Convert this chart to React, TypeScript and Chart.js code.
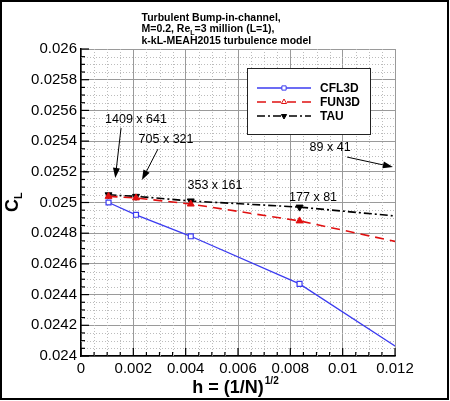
import { useEffect, useRef } from "react";
import Chart from "chart.js/auto";
import { drawPoint } from "chart.js/helpers";

// grid levels and their h = (1/N)^1/2
const gridNames = ["1409 x 641", "705 x 321", "353 x 161", "177 x 81", "89 x 41"];
const hValues = [0.001052, 0.002102, 0.004195, 0.008352, 0.016555];

// lift coefficient per code
const cfl3d = [0.025, 0.02492, 0.02478, 0.02447, 0.02356];
const fun3d = [0.02504, 0.02503, 0.02499, 0.02488, 0.02458];
const tau = [0.02505, 0.02504, 0.02501, 0.02497, 0.02484];

const xTickLabels = ["0", "0.002", "0.004", "0.006", "0.008", "0.01", "0.012"];
const yTickLabels = ["0.024", "0.0242", "0.0244", "0.0246", "0.0248", "0.025", "0.0252", "0.0254", "0.0256", "0.0258", "0.026"];

const titleLines = ["Turbulent Bump-in-channel,", "M=0.2, Re", "k-kL-MEAH2015 turbulence model"];

// grid-size labels, in data coordinates (h, CL); optional arrow from -> to
const notes = [
    { text: gridNames[0], at: [0.0021, 0.02554], from: [0.00153, 0.025485], to: [0.00131, 0.02516] },
    { text: gridNames[1], at: [0.00325, 0.025408], from: [0.00294, 0.025348], to: [0.00233, 0.025146] },
    { text: gridNames[2], at: [0.00512, 0.025113] },
    { text: gridNames[3], at: [0.00887, 0.025035] },
    { text: gridNames[4], at: [0.00952, 0.025361], from: [0.01017, 0.025296], to: [0.01192, 0.025231] },
];

const FONT = "'Liberation Sans', Arial, Helvetica, sans-serif";

const decor = {
    id: "decor",
    beforeDatasetsDraw(chart: any) {
        const { ctx, chartArea: a, scales } = chart;
        const x = scales.x;
        const y = scales.y;
        ctx.save();
        ctx.strokeStyle = "#bcbcbc";
        ctx.lineWidth = 1;
        ctx.setLineDash([1, 2]);
        for (let i = 1; i < 24; i++) {
            if (i % 4 === 0) continue;
            const px = Math.round(x.getPixelForValue(i * 0.0005)) + 0.5;
            ctx.beginPath();
            ctx.moveTo(px, a.top);
            ctx.lineTo(px, a.bottom);
            ctx.stroke();
        }
        for (let i = 1; i < 40; i++) {
            if (i % 4 === 0) continue;
            const py = Math.round(y.getPixelForValue(0.024 + i * 0.00005)) + 0.5;
            ctx.beginPath();
            ctx.moveTo(a.left, py);
            ctx.lineTo(a.right, py);
            ctx.stroke();
        }
        ctx.restore();
    },
    afterDraw(chart: any) {
        const { ctx, chartArea: a, scales } = chart;
        const x = scales.x;
        const y = scales.y;
        ctx.save();

        // inward ticks
        ctx.strokeStyle = "#000";
        ctx.lineWidth = 1.2;
        for (let i = 0; i <= 40; i++) {
            const py = y.getPixelForValue(0.024 + i * 0.00005);
            const len = i % 4 === 0 ? 8 : 4;
            ctx.beginPath();
            ctx.moveTo(a.left, py);
            ctx.lineTo(a.left + len, py);
            ctx.stroke();
        }
        for (let i = 0; i <= 24; i++) {
            const px = x.getPixelForValue(i * 0.0005);
            const len = i % 4 === 0 ? 8 : 4;
            ctx.beginPath();
            ctx.moveTo(px, a.bottom);
            ctx.lineTo(px, a.bottom - len);
            ctx.stroke();
        }

        // annotations
        ctx.fillStyle = "#000";
        ctx.font = `12.5px ${FONT}`;
        ctx.textAlign = "center";
        ctx.textBaseline = "middle";
        for (const n of notes) {
            ctx.fillText(n.text, x.getPixelForValue(n.at[0]), y.getPixelForValue(n.at[1]));
            if (n.from && n.to) {
                const x0 = x.getPixelForValue(n.from[0]);
                const y0 = y.getPixelForValue(n.from[1]);
                const x1 = x.getPixelForValue(n.to[0]);
                const y1 = y.getPixelForValue(n.to[1]);
                const ang = Math.atan2(y1 - y0, x1 - x0);
                ctx.lineWidth = 1;
                ctx.beginPath();
                ctx.moveTo(x0, y0);
                ctx.lineTo(x1 - 8 * Math.cos(ang), y1 - 8 * Math.sin(ang));
                ctx.stroke();
                ctx.beginPath();
                ctx.moveTo(x1, y1);
                ctx.lineTo(x1 - 10 * Math.cos(ang) + 3.5 * Math.sin(ang), y1 - 10 * Math.sin(ang) - 3.5 * Math.cos(ang));
                ctx.lineTo(x1 - 10 * Math.cos(ang) - 3.5 * Math.sin(ang), y1 - 10 * Math.sin(ang) + 3.5 * Math.cos(ang));
                ctx.closePath();
                ctx.fill();
            }
        }

        // legend box
        const lx = a.left + 166;
        const ly = a.top + 19;
        ctx.fillStyle = "#fff";
        ctx.fillRect(lx, ly, 123, 66);
        ctx.strokeStyle = "#222";
        ctx.lineWidth = 1;
        ctx.strokeRect(lx + 0.5, ly + 0.5, 123, 66);
        chart.data.datasets.forEach((ds: any, i: number) => {
            const ry = ly + 20 + i * 14;
            ctx.strokeStyle = ds.borderColor;
            ctx.lineWidth = ds.borderWidth;
            ctx.setLineDash(ds.borderDash || []);
            ctx.beginPath();
            ctx.moveTo(lx + 10, ry);
            ctx.lineTo(lx + 64, ry);
            ctx.stroke();
            ctx.setLineDash([]);
            ctx.fillStyle = i === 1 ? "#fff" : ds.pointBackgroundColor;
            ctx.lineWidth = 1;
            drawPoint(ctx, { pointStyle: ds.pointStyle, rotation: ds.pointRotation || 0, radius: 3, borderWidth: 1 }, lx + 37, ry);
            ctx.fillStyle = "#000";
            ctx.font = `bold 12px ${FONT}`;
            ctx.textAlign = "left";
            ctx.fillText(ds.label, lx + 73, ry + 1);
        });

        // title
        ctx.fillStyle = "#000";
        ctx.textAlign = "left";
        ctx.textBaseline = "alphabetic";
        ctx.font = `bold 10.5px ${FONT}`;
        const tx = 141.5;
        ctx.fillText(titleLines[0], tx, 20.5);
        ctx.fillText(titleLines[1], tx, 32);
        let w = ctx.measureText(titleLines[1]).width;
        ctx.font = `bold 7px ${FONT}`;
        ctx.fillText("L", tx + w, 34.5);
        w += ctx.measureText("L").width;
        ctx.font = `bold 10.5px ${FONT}`;
        ctx.fillText("=3 million (L=1),", tx + w, 32);
        ctx.fillText(titleLines[2], tx, 43.5);

        // x title
        const main = "h = (1/N)";
        ctx.font = `bold 18px ${FONT}`;
        const mw = ctx.measureText(main).width;
        ctx.font = `bold 10px ${FONT}`;
        const sw = ctx.measureText("1/2").width;
        const sx = (a.left + a.right) / 2 - (mw + sw) / 2 - 3;
        ctx.font = `bold 18px ${FONT}`;
        ctx.fillText(main, sx, 393);
        ctx.font = `bold 10px ${FONT}`;
        ctx.fillText("1/2", sx + mw + 1, 384);

        // y title (rotated)
        ctx.translate(18, 212);
        ctx.rotate(-Math.PI / 2);
        ctx.font = `bold 18px ${FONT}`;
        ctx.fillText("C", 0, 0);
        const cw = ctx.measureText("C").width;
        ctx.font = `bold 11px ${FONT}`;
        ctx.fillText("L", cw, 4);
        ctx.setTransform(1, 0, 0, 1, 0, 0);

        // outer frame
        const dpr = chart.currentDevicePixelRatio || 1;
        ctx.scale(dpr, dpr);
        ctx.strokeStyle = "#000";
        ctx.lineWidth = 2;
        ctx.strokeRect(1, 1, 447, 398);
        ctx.restore();
    },
};

export default function App() {
    const canvasRef = useRef<HTMLCanvasElement | null>(null);

    useEffect(() => {
        if (!canvasRef.current) {
            return;
        }

        const toPoints = (vals: number[]) => vals.map((v, i) => ({ x: hValues[i], y: v }));

        const chart = new Chart(canvasRef.current, {
            type: "line",
            data: {
                datasets: [
                    {
                        label: "CFL3D",
                        data: toPoints(cfl3d),
                        borderColor: "#3b3bf0",
                        borderWidth: 1.3,
                        pointStyle: "rect",
                        pointRadius: 3.5,
                        pointBorderWidth: 1.2,
                        pointBorderColor: "#3b3bf0",
                        pointBackgroundColor: "#ffffff",
                    },
                    {
                        label: "FUN3D",
                        data: toPoints(fun3d),
                        borderColor: "#e01010",
                        borderWidth: 1.6,
                        borderDash: [9, 6],
                        pointStyle: "triangle",
                        pointRadius: 4,
                        pointBorderWidth: 1,
                        pointBorderColor: "#e01010",
                        pointBackgroundColor: "#e01010",
                    },
                    {
                        label: "TAU",
                        data: toPoints(tau),
                        borderColor: "#000000",
                        borderWidth: 1.6,
                        borderDash: [8, 3, 2, 3],
                        pointStyle: "triangle",
                        pointRotation: 180,
                        pointRadius: 4,
                        pointBorderWidth: 1,
                        pointBorderColor: "#000000",
                        pointBackgroundColor: "#000000",
                    },
                ],
            },
            options: {
                animation: false,
                responsive: true,
                maintainAspectRatio: false,
                layout: { padding: { top: 49, right: 55, left: 0, bottom: 0 } },
                plugins: {
                    legend: { display: false },
                    tooltip: { enabled: false },
                },
                scales: {
                    x: {
                        type: "linear",
                        min: 0,
                        max: 0.012,
                        afterFit: (s: any) => {
                            s.height = 45;
                        },
                        ticks: {
                            stepSize: 0.002,
                            color: "#000",
                            padding: 4,
                            maxRotation: 0,
                            font: { family: FONT, size: 15 },
                            callback: (_v: any, i: number) => xTickLabels[i],
                        },
                        grid: { color: "#9a9a9a", lineWidth: 1, drawTicks: false },
                        border: { color: "#000", width: 1.5 },
                    },
                    y: {
                        type: "linear",
                        min: 0.024,
                        max: 0.026,
                        afterFit: (s: any) => {
                            s.width = 81;
                        },
                        ticks: {
                            stepSize: 0.0002,
                            color: "#000",
                            padding: 4,
                            font: { family: FONT, size: 15 },
                            callback: (_v: any, i: number) => yTickLabels[i],
                        },
                        grid: { color: "#9a9a9a", lineWidth: 1, drawTicks: false },
                        border: { color: "#000", width: 1.5 },
                    },
                },
            },
            plugins: [decor],
        });

        return () => chart.destroy();
    }, []);

    return (
        <div style={{ position: "absolute", left: 0, top: 0, width: 450, height: 401, background: "#fff" }}>
            <canvas ref={canvasRef} />
        </div>
    );
}
